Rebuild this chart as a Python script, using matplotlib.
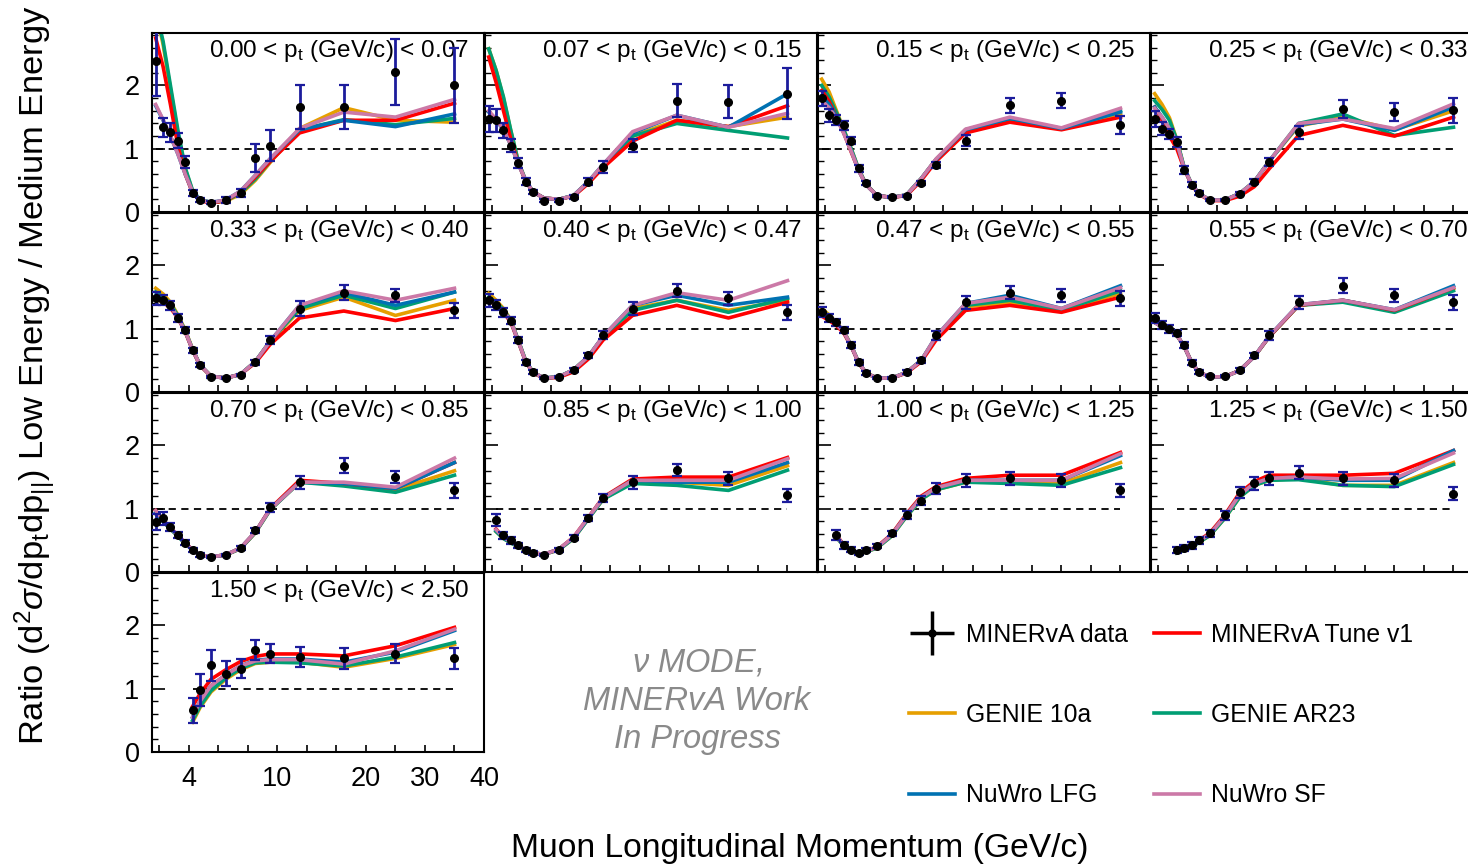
import numpy as np
import matplotlib
matplotlib.use("Agg")
import matplotlib.pyplot as plt
from matplotlib.lines import Line2D
from matplotlib.legend_handler import HandlerTuple

plt.rcParams['font.family'] = ['Liberation Sans', 'DejaVu Sans']
plt.rcParams['mathtext.fontset'] = 'custom'
plt.rcParams['mathtext.rm'] = 'Liberation Sans'
plt.rcParams['mathtext.it'] = 'Liberation Sans:italic'
plt.rcParams['mathtext.bf'] = 'Liberation Sans:bold'

# muon p_parallel bin centres (GeV/c)
pz_centers = [1.75, 2.25, 2.75, 3.25, 3.75, 4.25, 4.75, 5.5, 6.5, 7.5, 8.5, 9.5,
              12.5, 17.5, 25.0, 35.0]
# p_t bin edges (GeV/c) and first filled p_parallel bin in each p_t slice
pt_edges = [0.00, 0.07, 0.15, 0.25, 0.33, 0.40, 0.47, 0.55, 0.70, 0.85, 1.00, 1.25, 1.50, 2.50]
first_bin = [0, 0, 0, 0, 0, 0, 0, 0, 0, 1, 2, 3, 5]

# LE / ME ratio, data
data_ratio = [
    [2.38, 1.34, 1.26, 1.13, 0.79, 0.30, 0.19, 0.15, 0.19, 0.30, 0.85, 1.05, 1.66, 1.66, 2.21, 2.00],
    [1.47, 1.45, 1.29, 1.05, 0.77, 0.48, 0.32, 0.18, 0.18, 0.24, 0.48, 0.71, 1.05, 1.76, 1.74, 1.87],
    [1.80, 1.53, 1.45, 1.37, 1.13, 0.69, 0.46, 0.25, 0.24, 0.25, 0.46, 0.74, 1.13, 1.69, 1.76, 1.37],
    [1.47, 1.32, 1.24, 1.11, 0.66, 0.43, 0.30, 0.19, 0.19, 0.29, 0.48, 0.79, 1.26, 1.63, 1.58, 1.61],
    [1.48, 1.45, 1.37, 1.17, 0.98, 0.66, 0.43, 0.24, 0.22, 0.27, 0.47, 0.82, 1.32, 1.57, 1.53, 1.29],
    [1.45, 1.37, 1.26, 1.13, 0.82, 0.47, 0.31, 0.22, 0.24, 0.35, 0.58, 0.90, 1.32, 1.60, 1.48, 1.26],
    [1.26, 1.17, 1.10, 0.98, 0.74, 0.47, 0.30, 0.22, 0.22, 0.31, 0.50, 0.90, 1.42, 1.57, 1.53, 1.48],
    [1.17, 1.06, 1.00, 0.93, 0.74, 0.46, 0.31, 0.25, 0.25, 0.35, 0.58, 0.90, 1.42, 1.68, 1.53, 1.42],
    [0.79, 0.85, 0.71, 0.58, 0.46, 0.35, 0.27, 0.24, 0.27, 0.38, 0.66, 1.02, 1.42, 1.68, 1.50, 1.29],
    [0.82, 0.58, 0.50, 0.42, 0.35, 0.30, 0.27, 0.35, 0.54, 0.85, 1.17, 1.42, 1.61, 1.48, 1.21],
    [0.58, 0.42, 0.35, 0.30, 0.35, 0.41, 0.61, 0.90, 1.13, 1.32, 1.45, 1.48, 1.45, 1.29],
    [0.35, 0.38, 0.42, 0.50, 0.61, 0.90, 1.26, 1.40, 1.48, 1.57, 1.48, 1.45, 1.24],
    [0.66, 0.98, 1.37, 1.24, 1.32, 1.61, 1.55, 1.50, 1.48, 1.55, 1.48],
]
data_err = [
    [0.55, 0.15, 0.15, 0.12, 0.10, 0.04, 0.03, 0.03, 0.04, 0.06, 0.22, 0.25, 0.34, 0.35, 0.52, 0.60],
    [0.20, 0.18, 0.12, 0.10, 0.08, 0.05, 0.03, 0.02, 0.02, 0.03, 0.05, 0.10, 0.10, 0.26, 0.26, 0.40],
    [0.12, 0.10, 0.08, 0.07, 0.06, 0.05, 0.03, 0.02, 0.02, 0.02, 0.03, 0.05, 0.08, 0.12, 0.12, 0.14],
    [0.12, 0.10, 0.08, 0.08, 0.06, 0.04, 0.03, 0.02, 0.02, 0.02, 0.04, 0.07, 0.10, 0.14, 0.14, 0.20],
    [0.10, 0.08, 0.07, 0.06, 0.05, 0.04, 0.03, 0.02, 0.02, 0.02, 0.04, 0.06, 0.12, 0.12, 0.10, 0.12],
    [0.10, 0.08, 0.07, 0.06, 0.05, 0.04, 0.03, 0.02, 0.02, 0.03, 0.04, 0.06, 0.10, 0.10, 0.10, 0.12],
    [0.08, 0.07, 0.06, 0.05, 0.05, 0.04, 0.03, 0.02, 0.02, 0.03, 0.04, 0.07, 0.10, 0.10, 0.10, 0.12],
    [0.08, 0.07, 0.06, 0.05, 0.05, 0.04, 0.03, 0.02, 0.02, 0.03, 0.04, 0.07, 0.10, 0.12, 0.10, 0.12],
    [0.12, 0.10, 0.06, 0.05, 0.04, 0.03, 0.03, 0.02, 0.02, 0.03, 0.04, 0.07, 0.10, 0.12, 0.10, 0.12],
    [0.10, 0.06, 0.05, 0.04, 0.03, 0.03, 0.02, 0.03, 0.04, 0.05, 0.07, 0.10, 0.10, 0.10, 0.10],
    [0.08, 0.05, 0.04, 0.03, 0.03, 0.03, 0.04, 0.06, 0.07, 0.08, 0.10, 0.10, 0.10, 0.10],
    [0.05, 0.05, 0.05, 0.05, 0.05, 0.07, 0.09, 0.10, 0.10, 0.10, 0.10, 0.10, 0.10],
    [0.20, 0.26, 0.25, 0.20, 0.15, 0.16, 0.15, 0.16, 0.16, 0.15, 0.16],
]

# generator predictions
tune_v1 = [
    [2.75, 2.30, 1.70, 1.05, 0.60, 0.30, 0.18, 0.14, 0.18, 0.32, 0.55, 0.80, 1.25, 1.45, 1.45, 1.72],
    [2.45, 2.05, 1.60, 1.15, 0.77, 0.49, 0.32, 0.22, 0.20, 0.25, 0.45, 0.70, 1.12, 1.45, 1.35, 1.68],
    [1.92, 1.75, 1.50, 1.25, 0.95, 0.66, 0.43, 0.26, 0.23, 0.26, 0.50, 0.80, 1.25, 1.42, 1.30, 1.50],
    [1.66, 1.45, 1.20, 1.00, 0.68, 0.43, 0.28, 0.18, 0.18, 0.25, 0.40, 0.68, 1.21, 1.37, 1.20, 1.50],
    [1.48, 1.42, 1.33, 1.17, 0.95, 0.66, 0.42, 0.25, 0.22, 0.28, 0.46, 0.75, 1.17, 1.28, 1.13, 1.32],
    [1.45, 1.37, 1.26, 1.10, 0.80, 0.48, 0.30, 0.22, 0.23, 0.32, 0.52, 0.82, 1.21, 1.37, 1.17, 1.42],
    [1.20, 1.13, 1.05, 0.93, 0.72, 0.46, 0.30, 0.22, 0.22, 0.30, 0.48, 0.82, 1.29, 1.37, 1.26, 1.50],
    [1.10, 1.03, 0.97, 0.90, 0.72, 0.47, 0.31, 0.24, 0.24, 0.34, 0.56, 0.87, 1.37, 1.45, 1.29, 1.65],
    [0.97, 0.82, 0.70, 0.58, 0.46, 0.35, 0.27, 0.24, 0.27, 0.38, 0.63, 1.00, 1.45, 1.40, 1.32, 1.73],
    [0.68, 0.55, 0.48, 0.41, 0.35, 0.30, 0.28, 0.36, 0.55, 0.86, 1.18, 1.47, 1.50, 1.50, 1.81],
    [0.58, 0.43, 0.35, 0.30, 0.33, 0.40, 0.60, 0.92, 1.20, 1.35, 1.48, 1.53, 1.53, 1.89],
    [0.32, 0.36, 0.41, 0.50, 0.62, 0.90, 1.25, 1.43, 1.53, 1.53, 1.53, 1.56, 1.92],
    [0.72, 0.92, 1.15, 1.30, 1.43, 1.51, 1.55, 1.55, 1.52, 1.68, 1.97],
]
genie_10a = [
    [3.20, 2.65, 1.95, 1.25, 0.68, 0.33, 0.19, 0.15, 0.17, 0.28, 0.50, 0.78, 1.32, 1.65, 1.45, 1.42],
    [2.58, 2.24, 1.80, 1.28, 0.80, 0.50, 0.32, 0.22, 0.20, 0.26, 0.47, 0.73, 1.20, 1.45, 1.35, 1.50],
    [2.10, 1.90, 1.60, 1.30, 1.00, 0.68, 0.44, 0.26, 0.23, 0.27, 0.53, 0.83, 1.30, 1.46, 1.32, 1.55],
    [1.87, 1.70, 1.49, 1.14, 0.70, 0.44, 0.29, 0.19, 0.19, 0.29, 0.48, 0.80, 1.36, 1.50, 1.30, 1.60],
    [1.64, 1.55, 1.42, 1.22, 0.98, 0.68, 0.43, 0.25, 0.22, 0.28, 0.48, 0.80, 1.29, 1.50, 1.21, 1.45],
    [1.56, 1.45, 1.32, 1.14, 0.82, 0.50, 0.31, 0.22, 0.24, 0.35, 0.56, 0.87, 1.32, 1.45, 1.29, 1.45],
    [1.32, 1.22, 1.10, 0.96, 0.74, 0.47, 0.30, 0.22, 0.22, 0.31, 0.50, 0.86, 1.35, 1.41, 1.29, 1.56],
    [1.12, 1.04, 0.98, 0.90, 0.72, 0.47, 0.31, 0.24, 0.24, 0.34, 0.56, 0.87, 1.37, 1.45, 1.29, 1.63],
    [0.92, 0.80, 0.68, 0.57, 0.45, 0.35, 0.27, 0.24, 0.27, 0.37, 0.62, 0.98, 1.42, 1.40, 1.30, 1.60],
    [0.64, 0.53, 0.46, 0.40, 0.34, 0.30, 0.28, 0.35, 0.53, 0.84, 1.15, 1.42, 1.42, 1.37, 1.68],
    [0.55, 0.41, 0.33, 0.29, 0.32, 0.38, 0.57, 0.88, 1.15, 1.30, 1.42, 1.42, 1.40, 1.73],
    [0.30, 0.34, 0.39, 0.47, 0.58, 0.85, 1.18, 1.37, 1.45, 1.48, 1.37, 1.37, 1.73],
    [0.47, 0.70, 0.95, 1.15, 1.30, 1.40, 1.42, 1.42, 1.34, 1.48, 1.70],
]
genie_ar23 = [
    [3.20, 2.70, 2.00, 1.30, 0.70, 0.34, 0.20, 0.15, 0.18, 0.30, 0.52, 0.80, 1.30, 1.46, 1.38, 1.48],
    [2.58, 2.24, 1.82, 1.29, 0.80, 0.50, 0.32, 0.22, 0.20, 0.26, 0.48, 0.74, 1.20, 1.40, 1.29, 1.17],
    [2.00, 1.82, 1.57, 1.30, 1.00, 0.68, 0.44, 0.26, 0.23, 0.27, 0.53, 0.83, 1.30, 1.46, 1.32, 1.60],
    [1.76, 1.62, 1.45, 1.14, 0.70, 0.44, 0.29, 0.19, 0.19, 0.29, 0.48, 0.80, 1.40, 1.55, 1.21, 1.34],
    [1.58, 1.50, 1.40, 1.20, 0.97, 0.67, 0.43, 0.25, 0.22, 0.28, 0.48, 0.80, 1.32, 1.53, 1.32, 1.58],
    [1.50, 1.42, 1.30, 1.13, 0.82, 0.50, 0.31, 0.22, 0.24, 0.35, 0.56, 0.87, 1.29, 1.45, 1.26, 1.48],
    [1.29, 1.20, 1.09, 0.95, 0.73, 0.47, 0.30, 0.22, 0.22, 0.31, 0.50, 0.86, 1.37, 1.45, 1.29, 1.60],
    [1.10, 1.03, 0.97, 0.90, 0.72, 0.47, 0.31, 0.24, 0.24, 0.34, 0.56, 0.87, 1.37, 1.42, 1.26, 1.60],
    [0.92, 0.80, 0.68, 0.57, 0.45, 0.35, 0.27, 0.24, 0.27, 0.37, 0.62, 0.98, 1.42, 1.36, 1.26, 1.53],
    [0.64, 0.53, 0.46, 0.40, 0.34, 0.30, 0.28, 0.35, 0.53, 0.84, 1.15, 1.40, 1.37, 1.29, 1.61],
    [0.55, 0.41, 0.33, 0.29, 0.32, 0.38, 0.57, 0.88, 1.15, 1.30, 1.42, 1.40, 1.37, 1.65],
    [0.30, 0.34, 0.39, 0.47, 0.58, 0.85, 1.18, 1.37, 1.45, 1.46, 1.37, 1.35, 1.70],
    [0.50, 0.72, 0.97, 1.17, 1.32, 1.41, 1.42, 1.41, 1.36, 1.50, 1.73],
]
nuwro_lfg = [
    [1.68, 1.45, 1.20, 0.92, 0.60, 0.32, 0.19, 0.15, 0.19, 0.33, 0.58, 0.84, 1.30, 1.45, 1.35, 1.55],
    [1.58, 1.45, 1.30, 1.06, 0.77, 0.50, 0.32, 0.22, 0.20, 0.26, 0.48, 0.75, 1.25, 1.53, 1.34, 1.87],
    [1.84, 1.70, 1.50, 1.25, 0.97, 0.66, 0.43, 0.26, 0.23, 0.27, 0.53, 0.83, 1.30, 1.48, 1.32, 1.58],
    [1.66, 1.50, 1.32, 1.10, 0.69, 0.44, 0.29, 0.19, 0.19, 0.29, 0.48, 0.80, 1.38, 1.47, 1.29, 1.66],
    [1.52, 1.46, 1.36, 1.18, 0.96, 0.67, 0.43, 0.25, 0.22, 0.28, 0.48, 0.80, 1.37, 1.57, 1.37, 1.58],
    [1.45, 1.38, 1.28, 1.12, 0.81, 0.49, 0.31, 0.22, 0.24, 0.35, 0.56, 0.88, 1.37, 1.53, 1.37, 1.50],
    [1.26, 1.18, 1.08, 0.95, 0.73, 0.47, 0.30, 0.22, 0.22, 0.31, 0.50, 0.88, 1.40, 1.53, 1.32, 1.68],
    [1.10, 1.03, 0.97, 0.90, 0.72, 0.47, 0.31, 0.24, 0.24, 0.34, 0.56, 0.88, 1.38, 1.45, 1.30, 1.68],
    [0.94, 0.80, 0.69, 0.57, 0.45, 0.35, 0.27, 0.24, 0.27, 0.38, 0.63, 0.99, 1.42, 1.40, 1.32, 1.73],
    [0.66, 0.54, 0.47, 0.41, 0.35, 0.30, 0.28, 0.36, 0.54, 0.85, 1.17, 1.45, 1.42, 1.42, 1.73],
    [0.57, 0.42, 0.34, 0.30, 0.33, 0.39, 0.59, 0.90, 1.18, 1.33, 1.45, 1.45, 1.45, 1.84],
    [0.31, 0.35, 0.40, 0.49, 0.60, 0.88, 1.22, 1.40, 1.48, 1.50, 1.45, 1.45, 1.92],
    [0.55, 0.80, 1.05, 1.22, 1.36, 1.45, 1.47, 1.47, 1.42, 1.58, 1.92],
]
nuwro_sf = [
    [1.70, 1.46, 1.20, 0.92, 0.60, 0.32, 0.19, 0.15, 0.19, 0.33, 0.58, 0.84, 1.32, 1.58, 1.50, 1.78],
    [1.60, 1.47, 1.30, 1.06, 0.77, 0.50, 0.32, 0.22, 0.20, 0.26, 0.48, 0.75, 1.27, 1.53, 1.34, 1.56],
    [1.76, 1.65, 1.48, 1.24, 0.96, 0.66, 0.43, 0.26, 0.23, 0.27, 0.53, 0.84, 1.31, 1.50, 1.33, 1.64],
    [1.64, 1.50, 1.32, 1.10, 0.69, 0.44, 0.29, 0.19, 0.19, 0.29, 0.48, 0.80, 1.40, 1.47, 1.32, 1.71],
    [1.50, 1.45, 1.36, 1.18, 0.96, 0.67, 0.43, 0.25, 0.22, 0.28, 0.48, 0.80, 1.37, 1.60, 1.45, 1.64],
    [1.45, 1.38, 1.28, 1.12, 0.81, 0.49, 0.31, 0.22, 0.24, 0.35, 0.56, 0.88, 1.37, 1.57, 1.45, 1.76],
    [1.25, 1.17, 1.08, 0.95, 0.73, 0.47, 0.30, 0.22, 0.22, 0.31, 0.50, 0.88, 1.40, 1.50, 1.32, 1.65],
    [1.10, 1.03, 0.97, 0.90, 0.72, 0.47, 0.31, 0.24, 0.24, 0.34, 0.56, 0.88, 1.38, 1.45, 1.30, 1.65],
    [0.97, 0.82, 0.70, 0.58, 0.46, 0.35, 0.27, 0.24, 0.27, 0.38, 0.63, 0.99, 1.42, 1.42, 1.34, 1.80],
    [0.67, 0.55, 0.48, 0.41, 0.35, 0.30, 0.28, 0.36, 0.55, 0.86, 1.17, 1.45, 1.45, 1.45, 1.79],
    [0.57, 0.42, 0.34, 0.30, 0.33, 0.39, 0.59, 0.90, 1.18, 1.33, 1.45, 1.45, 1.45, 1.87],
    [0.31, 0.35, 0.40, 0.49, 0.60, 0.88, 1.22, 1.40, 1.48, 1.50, 1.47, 1.48, 1.88],
    [0.55, 0.80, 1.05, 1.22, 1.36, 1.44, 1.46, 1.46, 1.39, 1.60, 1.94],
]

models = [
    ("GENIE 10a", genie_10a, "#E69F00"),
    ("GENIE AR23", genie_ar23, "#009E73"),
    ("MINERvA Tune v1", tune_v1, "#FF0000"),
    ("NuWro LFG", nuwro_lfg, "#0072B2"),
    ("NuWro SF", nuwro_sf, "#CC79A7"),
]

# p_parallel axis: piecewise-linear, 2 GeV per division up to 10,
# then 10/3 GeV per division up to 20, then 5 GeV per division
axis_pz = [-100.0, 1.5, 10.0, 20.0, 40.0, 1000.0]
axis_u = [-50.75, 0.0, 4.25, 7.25, 11.25, 203.25]


def pz_forward(x):
    return np.interp(x, axis_pz, axis_u)


def pz_inverse(u):
    return np.interp(u, axis_u, axis_pz)


x_ticks = [2, 4, 6, 8, 10, 10 + 10 / 3, 10 + 20 / 3, 20, 25, 30, 35, 40]
x_ticklabels = ["", "4", "", "", "10", "", "", "20", "", "30", "", "40"]

W, H = 1468, 866
fig = plt.figure(figsize=(W / 100, H / 100), dpi=100)

col_left = [152, 485, 818, 1151]
row_bottom = [212, 392, 572, 752]
pw, ph = 332, 179

for i in range(len(data_ratio)):
    r, c = divmod(i, 4)
    ax = fig.add_axes([col_left[c] / W, 1 - row_bottom[r] / H, pw / W, ph / H])
    ax.set_xscale('function', functions=(pz_forward, pz_inverse))
    ax.set_xlim(1.5, 40)
    ax.set_ylim(0, 2.83)

    x = pz_centers[first_bin[i]:]
    ax.plot([x[0], x[-1]], [1, 1], color='black', lw=1.3, ls=(0, (4, 3)), zorder=1)
    for name, vals, color in models:
        ax.plot(x, vals[i], color=color, lw=2.6, zorder=2)
    ax.errorbar(x, data_ratio[i], yerr=data_err[i], fmt='o', color='black', ms=5.5,
                ecolor='#1c1c9c', elinewidth=2.0, capsize=3.5, capthick=1.6, zorder=4)

    lo, hi = pt_edges[i], pt_edges[i + 1]
    ax.text(0.955, 0.9, f"{lo:.2f} < p$_{{\\mathrm{{t}}}}$ (GeV/c) < {hi:.2f}",
            transform=ax.transAxes, ha='right', va='center', fontsize=17.5)

    for s in ax.spines.values():
        s.set_linewidth(1.5)
    ax.set_xticks(x_ticks)
    ax.xaxis.set_minor_locator(matplotlib.ticker.NullLocator())
    ax.set_yticks([0, 1, 2])
    ax.set_yticks(np.arange(0.2, 2.81, 0.2), minor=True)
    ax.tick_params(axis='x', which='major', direction='in', length=5, width=1.2,
                   top=False, labelsize=19.5, pad=10)
    ax.tick_params(axis='y', which='major', direction='in', length=9, width=1.2,
                   right=False, labelsize=19.5, pad=9)
    ax.tick_params(axis='y', which='minor', direction='in', length=4.5, width=1.0, right=False)

    if i == 12:
        ax.set_xticklabels(x_ticklabels)
    else:
        ax.set_xticklabels([])
    if c != 0:
        ax.set_yticklabels([])

fig.text(800 / W, 1 - 848 / H, "Muon Longitudinal Momentum (GeV/c)",
         ha='center', va='center', fontsize=24.2)
fig.text(36 / W, 1 - 375 / H,
         r"Ratio (d$^{2}\sigma$/dp$_{\mathrm{t}}$dp$_{||}$) Low Energy / Medium Energy",
         ha='center', va='center', rotation=90, fontsize=24.8)

fig.text(697 / W, 1 - 701 / H, "$\\nu$ MODE,\nMINERvA Work\nIn Progress",
         ha='center', va='center', fontsize=23.5, style='italic', color='#8a8a8a',
         linespacing=1.3)

# legend: columns fill top to bottom
data_handle = (Line2D([], [], color='black', marker='+', ms=31, mew=2.5, ls='none'),
               Line2D([], [], color='black', marker='o', ms=5, ls='none'))
line_handles = {name: Line2D([], [], color=color, lw=2.6) for name, _, color in models}
handles = [data_handle, line_handles["GENIE 10a"], line_handles["NuWro LFG"],
           line_handles["MINERvA Tune v1"], line_handles["GENIE AR23"], line_handles["NuWro SF"]]
labels = ["MINERvA data", "GENIE 10a", "NuWro LFG",
          "MINERvA Tune v1", "GENIE AR23", "NuWro SF"]
fig.legend(handles, labels, loc='upper left', bbox_to_anchor=(909 / W, 1 - 623 / H),
           ncol=2, frameon=False, fontsize=17.8, handlelength=1.85, handletextpad=0.45,
           labelspacing=2.27, columnspacing=1.05, borderpad=0, borderaxespad=0,
           handler_map={tuple: HandlerTuple(ndivide=1)})

fig.savefig("out.png", dpi=100)
